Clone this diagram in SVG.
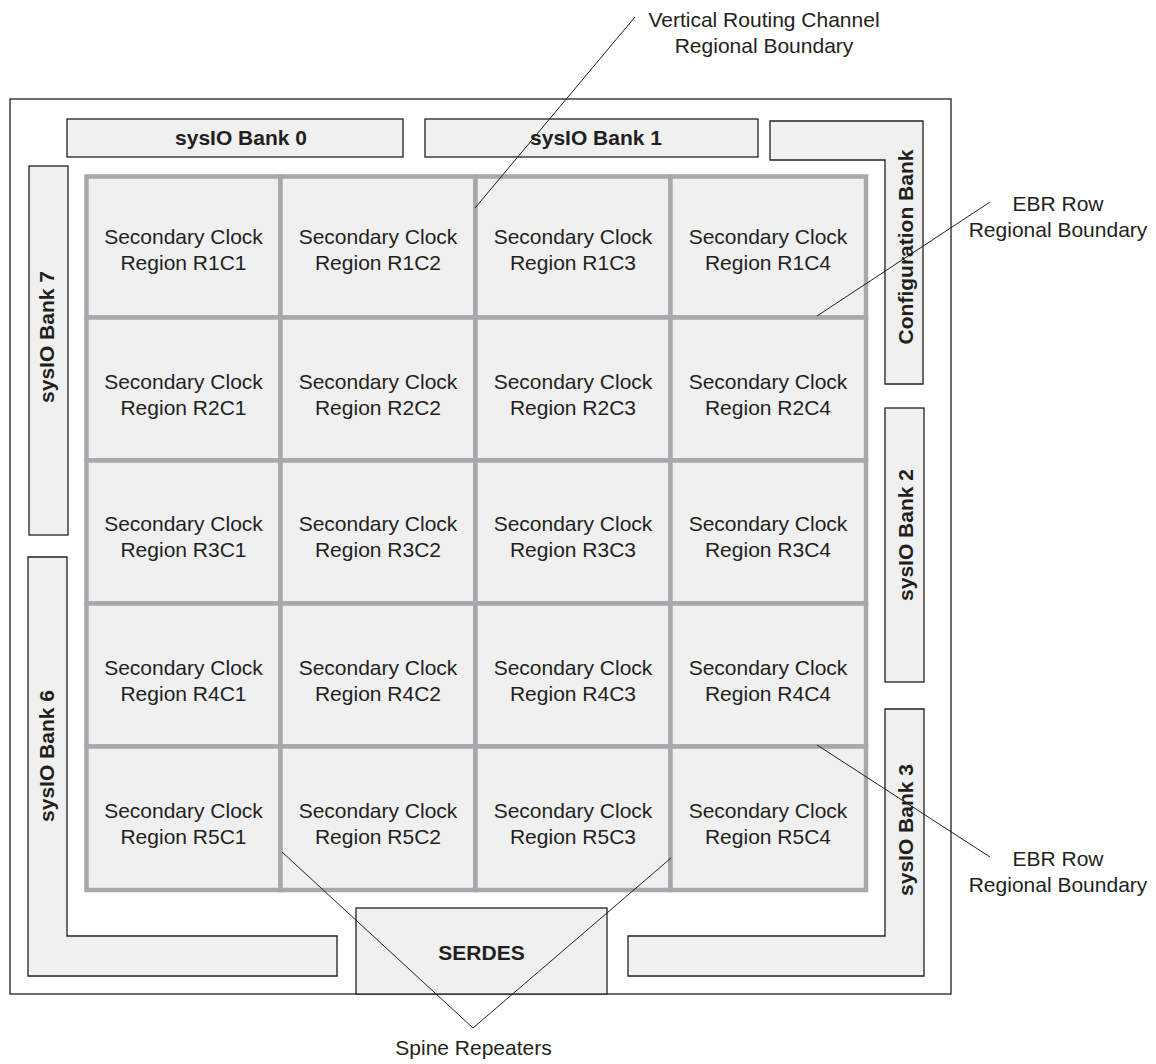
<svg xmlns="http://www.w3.org/2000/svg" width="1156" height="1064" viewBox="0 0 1156 1064">
<style>
.chip{fill:#ffffff;stroke:#231f20;stroke-width:1.3}
.bank{fill:#f0f0f0;stroke:#231f20;stroke-width:1.3}
.cell{fill:#f0f0f0;stroke:#a7a8ab;stroke-width:4.5}
.t{font-family:"Liberation Sans",Arial,sans-serif;font-size:21px;fill:#231f20;text-anchor:middle}
.b{font-family:"Liberation Sans",Arial,sans-serif;font-size:21px;font-weight:bold;fill:#231f20;text-anchor:middle}
.lead{fill:none;stroke:#231f20;stroke-width:1}
</style>
<rect width="1156" height="1064" fill="#ffffff"/>
<g id="chip"><rect class="chip" x="10" y="99" width="941" height="895"/></g>

<g id="bank0"><rect class="bank" x="67" y="119" width="336" height="38"/><text class="b" x="241" y="145">sysIO Bank 0</text></g>
<g id="bank1"><rect class="bank" x="425" y="119" width="333" height="38"/><text class="b" x="596" y="145">sysIO Bank 1</text></g>
<g id="configbank"><path class="bank" d="M770,121 H923 V384 H885 V160 H770 Z"/><text class="b" transform="translate(913,247) rotate(-90)">Configuration Bank</text></g>
<g id="bank2"><rect class="bank" x="885" y="408" width="39" height="274"/><text class="b" transform="translate(913,535) rotate(-90)">sysIO Bank 2</text></g>
<g id="bank3"><path class="bank" d="M885,709 H924 V976 H628 V936 H885 Z"/><text class="b" transform="translate(913,830) rotate(-90)">sysIO Bank 3</text></g>
<g id="bank6"><path class="bank" d="M28,557 H67 V936 H337 V976 H28 Z"/><text class="b" transform="translate(54,756) rotate(-90)">sysIO Bank 6</text></g>
<g id="bank7"><rect class="bank" x="29" y="166" width="39" height="369"/><text class="b" transform="translate(54,337) rotate(-90)">sysIO Bank 7</text></g>
<g id="serdes"><rect class="bank" x="356" y="908" width="251" height="86"/><text class="b" x="481.5" y="960">SERDES</text></g>

<g id="r1c1"><rect class="cell" x="86.5" y="176.5" width="194" height="141"/><text class="t" x="183.5" y="244">Secondary Clock</text><text class="t" x="183.5" y="270">Region R1C1</text></g>
<g id="r1c2"><rect class="cell" x="280.5" y="176.5" width="195" height="141"/><text class="t" x="378" y="244">Secondary Clock</text><text class="t" x="378" y="270">Region R1C2</text></g>
<g id="r1c3"><rect class="cell" x="475.5" y="176.5" width="195" height="141"/><text class="t" x="573" y="244">Secondary Clock</text><text class="t" x="573" y="270">Region R1C3</text></g>
<g id="r1c4"><rect class="cell" x="670.5" y="176.5" width="195.5" height="141"/><text class="t" x="768" y="244">Secondary Clock</text><text class="t" x="768" y="270">Region R1C4</text></g>

<g id="r2c1"><rect class="cell" x="86.5" y="317.5" width="194" height="143"/><text class="t" x="183.5" y="389">Secondary Clock</text><text class="t" x="183.5" y="415">Region R2C1</text></g>
<g id="r2c2"><rect class="cell" x="280.5" y="317.5" width="195" height="143"/><text class="t" x="378" y="389">Secondary Clock</text><text class="t" x="378" y="415">Region R2C2</text></g>
<g id="r2c3"><rect class="cell" x="475.5" y="317.5" width="195" height="143"/><text class="t" x="573" y="389">Secondary Clock</text><text class="t" x="573" y="415">Region R2C3</text></g>
<g id="r2c4"><rect class="cell" x="670.5" y="317.5" width="195.5" height="143"/><text class="t" x="768" y="389">Secondary Clock</text><text class="t" x="768" y="415">Region R2C4</text></g>

<g id="r3c1"><rect class="cell" x="86.5" y="460.5" width="194" height="143"/><text class="t" x="183.5" y="531">Secondary Clock</text><text class="t" x="183.5" y="557">Region R3C1</text></g>
<g id="r3c2"><rect class="cell" x="280.5" y="460.5" width="195" height="143"/><text class="t" x="378" y="531">Secondary Clock</text><text class="t" x="378" y="557">Region R3C2</text></g>
<g id="r3c3"><rect class="cell" x="475.5" y="460.5" width="195" height="143"/><text class="t" x="573" y="531">Secondary Clock</text><text class="t" x="573" y="557">Region R3C3</text></g>
<g id="r3c4"><rect class="cell" x="670.5" y="460.5" width="195.5" height="143"/><text class="t" x="768" y="531">Secondary Clock</text><text class="t" x="768" y="557">Region R3C4</text></g>

<g id="r4c1"><rect class="cell" x="86.5" y="603.5" width="194" height="143"/><text class="t" x="183.5" y="675">Secondary Clock</text><text class="t" x="183.5" y="701">Region R4C1</text></g>
<g id="r4c2"><rect class="cell" x="280.5" y="603.5" width="195" height="143"/><text class="t" x="378" y="675">Secondary Clock</text><text class="t" x="378" y="701">Region R4C2</text></g>
<g id="r4c3"><rect class="cell" x="475.5" y="603.5" width="195" height="143"/><text class="t" x="573" y="675">Secondary Clock</text><text class="t" x="573" y="701">Region R4C3</text></g>
<g id="r4c4"><rect class="cell" x="670.5" y="603.5" width="195.5" height="143"/><text class="t" x="768" y="675">Secondary Clock</text><text class="t" x="768" y="701">Region R4C4</text></g>

<g id="r5c1"><rect class="cell" x="86.5" y="746.5" width="194" height="143.5"/><text class="t" x="183.5" y="818">Secondary Clock</text><text class="t" x="183.5" y="844">Region R5C1</text></g>
<g id="r5c2"><rect class="cell" x="280.5" y="746.5" width="195" height="143.5"/><text class="t" x="378" y="818">Secondary Clock</text><text class="t" x="378" y="844">Region R5C2</text></g>
<g id="r5c3"><rect class="cell" x="475.5" y="746.5" width="195" height="143.5"/><text class="t" x="573" y="818">Secondary Clock</text><text class="t" x="573" y="844">Region R5C3</text></g>
<g id="r5c4"><rect class="cell" x="670.5" y="746.5" width="195.5" height="143.5"/><text class="t" x="768" y="818">Secondary Clock</text><text class="t" x="768" y="844">Region R5C4</text></g>

<g id="label-vrc"><text class="t" x="764" y="27">Vertical Routing Channel</text><text class="t" x="764" y="53">Regional Boundary</text></g>
<g id="label-ebr-top"><text class="t" x="1058" y="211">EBR Row</text><text class="t" x="1058" y="237">Regional Boundary</text></g>
<g id="label-ebr-bottom"><text class="t" x="1058" y="866">EBR Row</text><text class="t" x="1058" y="892">Regional Boundary</text></g>
<g id="label-spine"><text class="t" x="473.5" y="1055">Spine Repeaters</text></g>

<g id="connectors">
<line class="lead" x1="475" y1="208" x2="635" y2="17"/>
<line class="lead" x1="817" y1="316" x2="990" y2="202"/>
<line class="lead" x1="817" y1="745" x2="990" y2="857"/>
<polyline class="lead" points="282,852 473,1028 671,858"/>
</g>
</svg>
